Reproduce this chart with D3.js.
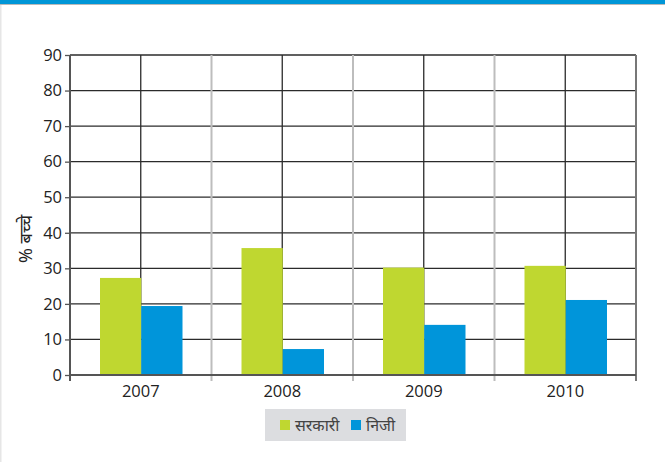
<!DOCTYPE html>
<html>
<head>
<meta charset="utf-8">
<script src="https://cdn.jsdelivr.net/npm/d3@7"></script>
<style>
    body { margin: 0; background: #fff; }
    svg { display: block; font-family: "Open Sans", "Noto Sans", sans-serif; }
</style>
</head>
<body>
<svg id="chart" width="665" height="462"></svg>
<script>
// data
const years = ["2007", "2008", "2009", "2010"];
const govt = [27.3, 35.7, 30.2, 30.7];
const priv = [19.4, 7.3, 14.1, 21.1];
const seriesNames = ["सरकारी", "निजी"];
const yTicks = [0, 10, 20, 30, 40, 50, 60, 70, 80, 90];

const colors = ["#bfd730", "#0095da"];

const svg = d3.select("#chart");
const margin = { left: 70, right: 29, top: 55, bottom: 87 };
const width = 665 - margin.left - margin.right,
    height = 462 - margin.top - margin.bottom;

// page frame
svg.append("rect").attr("x", 0).attr("y", 0).attr("width", 665).attr("height", 4).attr("fill", "#0096d7");
svg.append("rect").attr("x", 0).attr("y", 4).attr("width", 665).attr("height", 1).attr("fill", "#b9b9b9");
svg.append("rect").attr("x", 0).attr("y", 5).attr("width", 1.5).attr("height", 457).attr("fill", "#e6e6e6");

const g = svg.append("g").attr("transform", `translate(${margin.left},${margin.top})`);

const x = d3.scaleBand().domain(years).range([0, width]);
const y = d3.scaleLinear().domain([0, 90]).range([height, 0]);

// horizontal grid
g.append("g")
    .selectAll("line")
    .data(yTicks.slice(1))
    .join("line")
    .attr("x1", 0)
    .attr("x2", width)
    .attr("y1", d => y(d))
    .attr("y2", d => y(d))
    .attr("stroke", "#2b2b2b")
    .attr("stroke-width", 1.3);

// vertical grid: dark at category centres, light at boundaries
g.append("g")
    .selectAll("line")
    .data(years)
    .join("line")
    .attr("x1", d => x(d) + x.bandwidth() / 2)
    .attr("x2", d => x(d) + x.bandwidth() / 2)
    .attr("y1", 0)
    .attr("y2", height)
    .attr("stroke", "#2b2b2b")
    .attr("stroke-width", 1.3);

g.append("g")
    .selectAll("line")
    .data(years.slice(1))
    .join("line")
    .attr("x1", d => x(d))
    .attr("x2", d => x(d))
    .attr("y1", 0)
    .attr("y2", height + 6)
    .attr("stroke", "#bdbdbd")
    .attr("stroke-width", 2);

// bars
const x1 = d3.scaleBand().domain([0, 1]).range([30, x.bandwidth() - 29]);
const bars = g.append("g");
[govt, priv].forEach((vals, s) => {
    bars.selectAll(null)
        .data(vals)
        .join("rect")
        .attr("x", (d, i) => x(years[i]) + x1(s))
        .attr("width", x1.bandwidth())
        .attr("y", d => y(d))
        .attr("height", d => height - y(d))
        .attr("fill", colors[s]);
});

// axes
const yAxis = g.append("g")
    .call(d3.axisLeft(y).tickValues(yTicks).tickSize(5).tickPadding(3));
yAxis.select(".domain").remove();
yAxis.selectAll(".tick line").attr("stroke", "#555").attr("stroke-width", 1.3);
yAxis.selectAll("text").attr("font-size", 16.5).attr("fill", "#222").attr("font-family", "Open Sans, sans-serif");

g.append("line").attr("x1", 0).attr("x2", 0).attr("y1", 0).attr("y2", height + 6)
    .attr("stroke", "#555").attr("stroke-width", 2);
g.append("line").attr("x1", width).attr("x2", width).attr("y1", 0).attr("y2", height + 6)
    .attr("stroke", "#777").attr("stroke-width", 2);
g.append("line").attr("x1", 0).attr("x2", width).attr("y1", height).attr("y2", height)
    .attr("stroke", "#555").attr("stroke-width", 2);

const xAxis = g.append("g")
    .attr("transform", `translate(0,${height})`)
    .call(d3.axisBottom(x).tickSize(0).tickPadding(10));
xAxis.select(".domain").remove();
xAxis.selectAll("text").attr("font-size", 16.5).attr("fill", "#222").attr("font-family", "Open Sans, sans-serif");

// y label
svg.append("text")
    .attr("transform", "translate(32,239) rotate(-90)")
    .attr("text-anchor", "middle")
    .attr("font-size", 18)
    .attr("fill", "#222")
    .attr("font-family", "Noto Sans, sans-serif")
    .text("% बच्चे");

// legend
const legend = svg.append("g").attr("transform", "translate(265,409)");
legend.append("rect").attr("width", 141).attr("height", 32).attr("fill", "#dcdde0");
const items = [
    { name: seriesNames[0], color: colors[0], sx: 15, tx: 30 },
    { name: seriesNames[1], color: colors[1], sx: 86, tx: 101 }
];
items.forEach(it => {
    legend.append("rect").attr("x", it.sx).attr("y", 11).attr("width", 10).attr("height", 10).attr("fill", it.color);
    legend.append("text")
        .attr("x", it.tx)
        .attr("y", 22)
        .attr("font-size", 16)
        .attr("fill", "#444")
        .attr("font-family", "Noto Sans, sans-serif")
        .text(it.name);
});
</script>
</body>
</html>
